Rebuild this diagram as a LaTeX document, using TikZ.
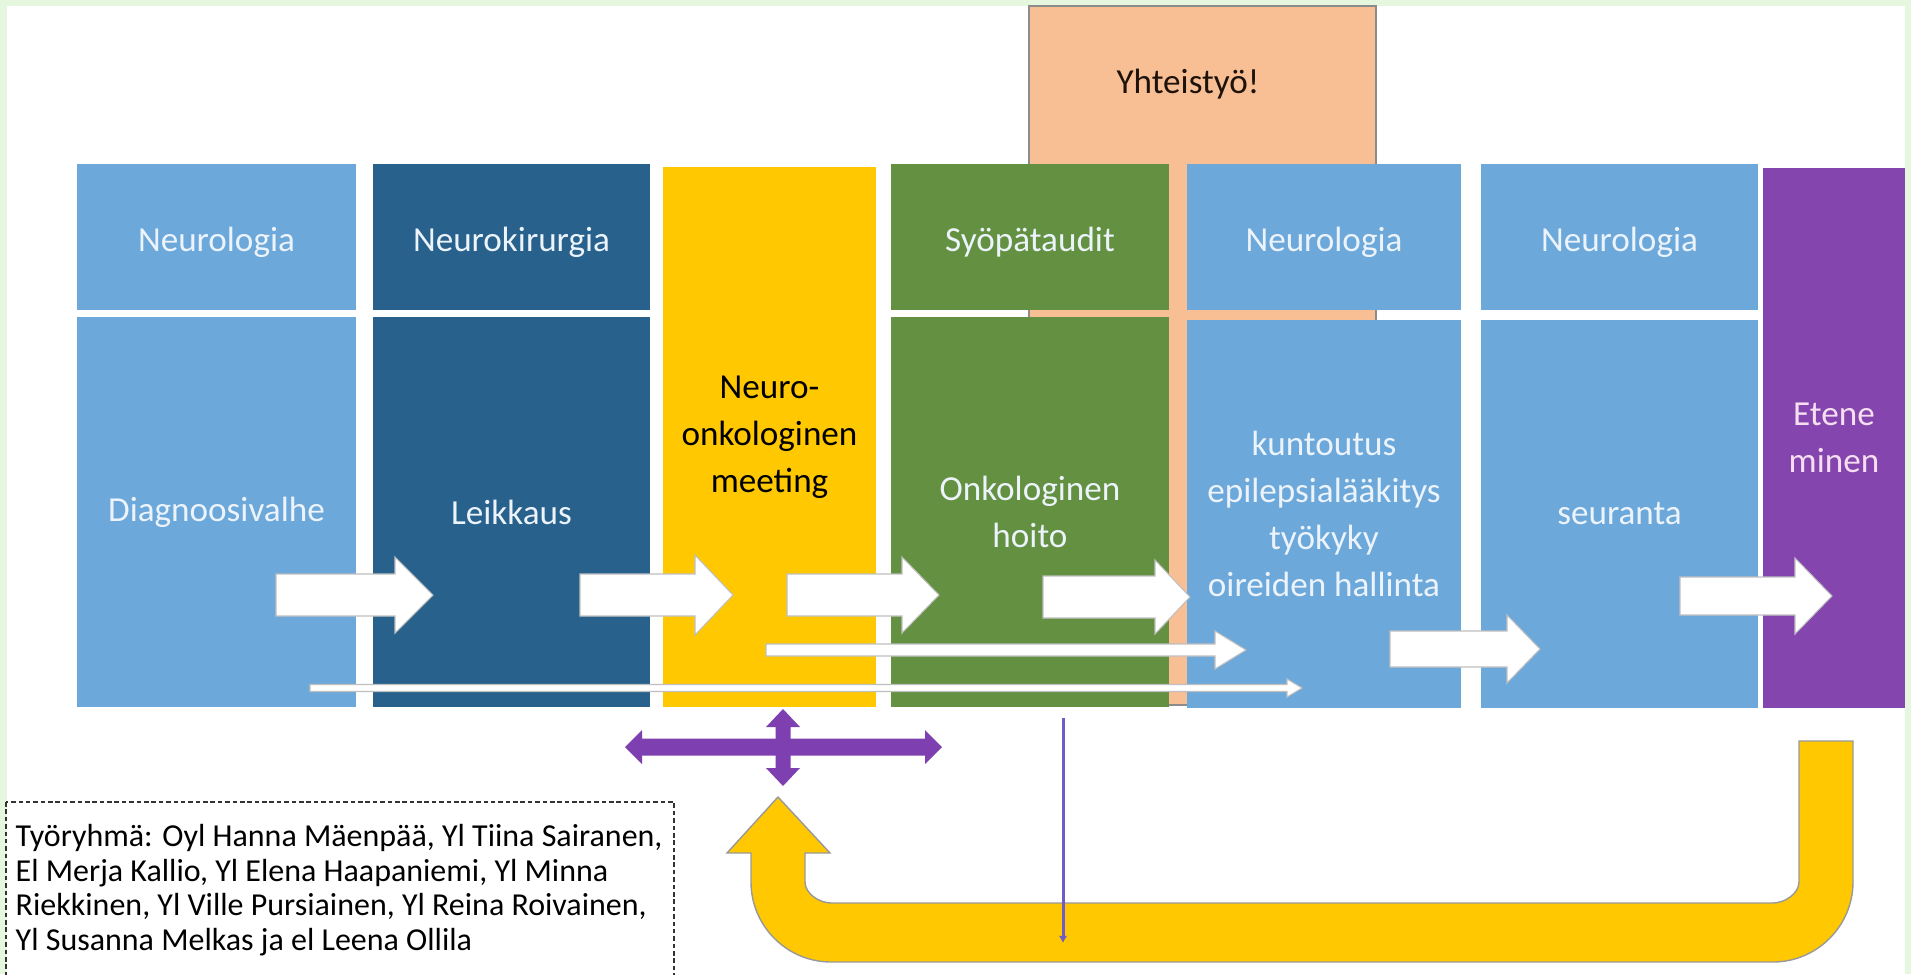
\documentclass[tikz,border=0pt]{standalone}
\usepackage{fontspec}
\setmainfont{Carlito}
\usetikzlibrary{arrows.meta}
\definecolor{framegreen}{RGB}{230,247,224}
\definecolor{neuroblue}{RGB}{108,168,218}
\definecolor{kirblue}{RGB}{40,98,140}
\definecolor{meetyellow}{RGB}{255,200,0}
\definecolor{onkogreen}{RGB}{99,145,65}
\definecolor{peach}{RGB}{248,190,148}
\definecolor{etenepurple}{RGB}{132,70,174}
\definecolor{crosspurple}{RGB}{126,64,176}
\definecolor{droppurple}{RGB}{112,92,196}
\definecolor{boxtext}{RGB}{236,243,251}
\definecolor{pinktext}{RGB}{246,222,240}
\tikzset{
  headbox/.style={rectangle, inner sep=0pt, minimum height=14.6mm, text=boxtext,
    text height=0.84em, text depth=0pt, font=\fontsize{10}{12}\selectfont},
  stepbox/.style={rectangle, inner sep=0pt, minimum height=39mm, align=center, text=boxtext,
    font=\fontsize{10}{13.4}\selectfont},
  tallbox/.style={rectangle, inner sep=0pt, minimum height=54mm, align=center,
    font=\fontsize{10}{13.4}\selectfont},
  arrowbody/.style={fill=white, draw=black!25, line width=0.3pt},
  teamtext/.style={inner sep=0pt, align=left, font=\fontsize{9.1}{9.8}\selectfont},
  teamframe/.style={draw=black!80, line width=0.5pt, dash pattern=on 1.3pt off 0.8pt},
  dropline/.style={draw=droppurple, line width=0.85pt, -{Latex[length=2pt,width=2.4pt]}},
}
\newcommand{\whitearrow}[6]{%
  \filldraw[arrowbody] (#1,{#3-#4}) -- ({#2-#6},{#3-#4}) -- ({#2-#6},{#3-#5}) -- (#2,#3)
    -- ({#2-#6},{#3+#5}) -- ({#2-#6},{#3+#4}) -- (#1,{#3+#4}) -- cycle;}
\begin{document}
\begin{tikzpicture}[x=0.1mm, y=-0.1mm]
    \useasboundingbox (0,0) rectangle (1911,974);
    \fill[framegreen] (0,0) rectangle (1911,974);
    \fill[white] (7,6) rectangle (1905,974);

    \node[rectangle, fill=peach, draw=black!45, line width=0.4pt, minimum width=34.7mm, minimum height=69.9mm] (peach) at (1202.5,355.5) {};
    \node[text=black!85!brown, font=\fontsize{10}{12}\selectfont] (yhteis) at (1188,84) {Yhteistyö!};

    \node[headbox, fill=neuroblue, minimum width=27.9mm] (neuroA) at (216.5,237) {Neurologia};
    \node[stepbox, fill=neuroblue, minimum width=27.9mm] (diag) at (216.5,512) {Diagnoosivalhe};
    \node[headbox, fill=kirblue, minimum width=27.7mm] (kirurgia) at (511.5,237) {Neurokirurgia};
    \node[stepbox, fill=kirblue, minimum width=27.7mm] (leikkaus) at (511.5,512) {Leikkaus};
    \node[tallbox, fill=meetyellow, text=black, minimum width=21.3mm] (meeting) at (769.5,437) {Neuro-\\onkologinen\\meeting};
    \node[headbox, fill=onkogreen, minimum width=27.8mm] (syopa) at (1030,237) {Syöpätaudit};
    \node[stepbox, fill=onkogreen, minimum width=27.8mm] (hoito) at (1030,512) {Onkologinen\\hoito};
    \node[headbox, fill=neuroblue, minimum width=27.4mm] (neuroB) at (1324,237) {Neurologia};
    \node[stepbox, fill=neuroblue, minimum width=27.4mm, minimum height=38.8mm] (kuntoutus) at (1324,514) {kuntoutus\\epilepsialääkitys\\työkyky\\oireiden hallinta};
    \node[headbox, fill=neuroblue, minimum width=27.7mm] (neuroC) at (1619.5,237) {Neurologia};
    \node[stepbox, fill=neuroblue, minimum width=27.7mm, minimum height=38.8mm] (seuranta) at (1619.5,514) {seuranta};
    \node[tallbox, fill=etenepurple, text=pinktext, minimum width=14.2mm] (etene) at (1834,438) {Etene\\minen};

    \whitearrow{276}{433}{595}{21}{38}{38}
    \whitearrow{580}{733}{595}{21}{40}{38}
    \whitearrow{787}{939}{595}{21}{38}{37}
    \whitearrow{1043}{1190}{597}{21}{37}{35}
    \whitearrow{1390}{1540}{649}{18}{34}{33}
    \whitearrow{1680}{1832}{596}{19}{38}{37}
    \whitearrow{766}{1246}{650}{6}{19}{31}
    \whitearrow{310}{1302}{688}{3.5}{9}{15}

    \fill[crosspurple] (625,747) -- (642,730) -- (642,738.5) -- (925,738.5) -- (925,730) -- (942,747)
        -- (925,764) -- (925,755.5) -- (642,755.5) -- (642,764) -- cycle;
    \fill[crosspurple] (783,709) -- (800,727) -- (790.5,727) -- (790.5,768) -- (800,768) -- (783,786)
        -- (766,768) -- (775.5,768) -- (775.5,727) -- (766,727) -- cycle;

    \filldraw[fill=meetyellow, draw=black!40, line width=0.4pt] (1853,741) -- (1853,882)
        .. controls (1853,926) and (1817,962) .. (1773,962) -- (831,962)
        .. controls (787,962) and (751,926) .. (751,882) -- (751,853) -- (727,853) -- (778,797)
        -- (830,853) -- (805,853) -- (805,882) .. controls (805,893.6) and (819.4,903) .. (831,903)
        -- (1773,903) .. controls (1784.6,903) and (1799,893.6) .. (1799,882) -- (1799,741) -- cycle;

    \coordinate (drop) at (1063,718);
    \coordinate (dropend) at (1063,943);
    \draw[dropline] (drop) -- (dropend);

    \draw[teamframe] (6,802) rectangle (674,995);
    \node[teamtext, anchor=north west] (team) at (15,824) {Työryhmä: Oyl Hanna Mäenpää, Yl Tiina Sairanen,\\El Merja Kallio, Yl Elena Haapaniemi, Yl Minna\\Riekkinen, Yl Ville Pursiainen, Yl Reina Roivainen,\\Yl Susanna Melkas ja el Leena Ollila};
\end{tikzpicture}
\end{document}
